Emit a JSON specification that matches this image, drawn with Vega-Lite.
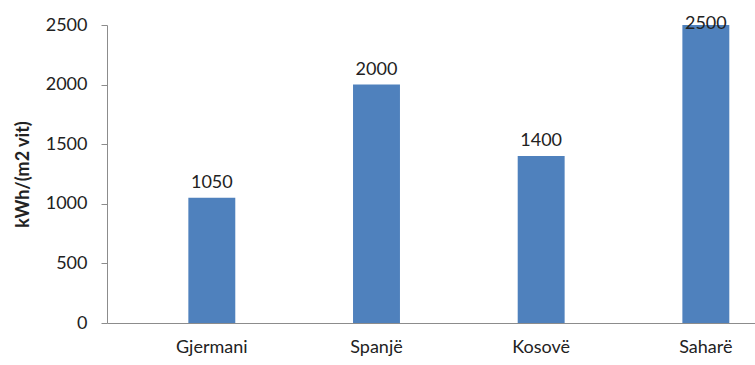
{
  "$schema": "https://vega.github.io/schema/vega-lite/v6.json",
  "autosize": {"type": "none"},
  "padding": {"left": 107, "top": 25, "right": 0, "bottom": 42},
  "width": 648,
  "height": 298,
  "background": "white",
  "config": {
    "view": {"stroke": null},
    "font": "Lato",
    "axis": {
      "labelFont": "Lato",
      "titleFont": "Lato",
      "labelColor": "#222222",
      "titleColor": "#222222",
      "domainColor": "#8c8c8c",
      "tickColor": "#8c8c8c",
      "grid": false
    }
  },
  "data": {
    "values": [
      {"vend": "Gjermani", "rrezatimi": 1050},
      {"vend": "Spanjë", "rrezatimi": 2000},
      {"vend": "Kosovë", "rrezatimi": 1400},
      {"vend": "Saharë", "rrezatimi": 2500}
    ]
  },
  "encoding": {
    "x": {
      "field": "vend",
      "type": "nominal",
      "sort": null,
      "scale": {"paddingInner": 0.715, "paddingOuter": 0.325, "align": 0.76},
      "axis": {
        "title": null,
        "labelAngle": 0,
        "labelFontSize": 18,
        "labelPadding": 15,
        "ticks": false,
        "domainWidth": 1
      }
    },
    "y": {
      "field": "rrezatimi",
      "type": "quantitative",
      "scale": {"domain": [0, 2500], "nice": false},
      "axis": {
        "title": "kWh/(m2 vit)",
        "titleFontSize": 18,
        "titleFontWeight": "bold",
        "titlePadding": 13,
        "values": [0, 500, 1000, 1500, 2000, 2500],
        "format": "d",
        "labelFontSize": 18,
        "labelPadding": 14,
        "tickSize": 6,
        "domainWidth": 1
      }
    }
  },
  "layer": [
    {"mark": {"type": "bar", "color": "#4f81bd"}},
    {
      "transform": [{"filter": "datum.rrezatimi < 2500"}],
      "mark": {"type": "text", "baseline": "alphabetic", "dy": -10, "fontSize": 18, "color": "#222222"},
      "encoding": {"text": {"field": "rrezatimi", "type": "quantitative", "format": "d"}}
    },
    {
      "transform": [{"filter": "datum.rrezatimi >= 2500"}],
      "mark": {"type": "text", "baseline": "alphabetic", "dy": 4, "fontSize": 18, "color": "#222222"},
      "encoding": {"text": {"field": "rrezatimi", "type": "quantitative", "format": "d"}}
    }
  ]
}
